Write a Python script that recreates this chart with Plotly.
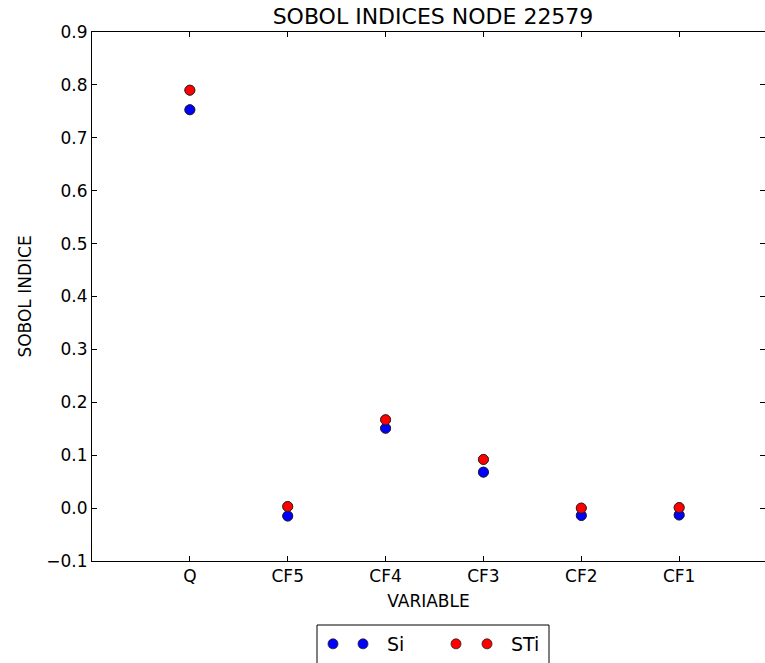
import plotly.graph_objects as go

# First-order (Si) and total (STi) Sobol indices per input variable
variables = ["Q", "CF5", "CF4", "CF3", "CF2", "CF1"]
si_values = [0.753, -0.015, 0.151, 0.068, -0.014, -0.013]
sti_values = [0.790, 0.003, 0.167, 0.092, 0.000, 0.001]

y_ticks = [-0.1, 0.0, 0.1, 0.2, 0.3, 0.4, 0.5, 0.6, 0.7, 0.8, 0.9]

W, H = 765, 663
ML, MR, MT, MB = 92, 0, 32, 102
PW = W - ML - MR
PH = H - MT - MB
UNIT = 97.86  # pixels per category step
FONT = "DejaVu Sans"


def px_x(p):
    return (p - ML) / PW


def cy(p):
    return 1 - p / H


fig = go.Figure()

marker_line = dict(color="#222222", width=0.8)

# Extra legend-only entries give each series the two-symbol legend sample
fig.add_trace(go.Scatter(
    x=variables, y=si_values, mode="markers", name="",
    marker=dict(color="#0000ff", size=10, line=marker_line),
    legend="legend2", legendwidth=70, hoverinfo="skip",
))
fig.add_trace(go.Scatter(
    x=variables, y=si_values, mode="markers", name="Si",
    marker=dict(color="#0000ff", size=10, line=marker_line),
    legend="legend", legendwidth=71,
))
fig.add_trace(go.Scatter(
    x=variables, y=sti_values, mode="markers", name="",
    marker=dict(color="#ff0000", size=10, line=marker_line),
    legend="legend2", legendwidth=10, hoverinfo="skip",
))
fig.add_trace(go.Scatter(
    x=variables, y=sti_values, mode="markers", name="STi",
    marker=dict(color="#ff0000", size=10, line=marker_line),
    legend="legend", legendwidth=40,
))

axis_common = dict(
    showline=True, linecolor="black", linewidth=1, mirror="ticks",
    ticks="inside", ticklen=5, tickwidth=1, tickcolor="black",
    showgrid=False, zeroline=False,
    tickfont=dict(family=FONT, size=17, color="black"),
)

fig.update_layout(
    width=W, height=H,
    margin=dict(l=ML, r=MR, t=MT, b=MB, pad=0),
    paper_bgcolor="white", plot_bgcolor="white",
    font=dict(family=FONT, color="black"),
    title=dict(
        text="SOBOL INDICES NODE 22579",
        font=dict(family=FONT, size=22, color="black"),
        x=px_x(433), xref="paper", xanchor="center",
        y=cy(16.5), yref="container", yanchor="middle",
    ),
    xaxis=dict(
        axis_common,
        type="category", categoryorder="array", categoryarray=variables,
        range=[-1, -1 + PW / UNIT],
        title=dict(text="VARIABLE", font=dict(family=FONT, size=17), standoff=9),
    ),
    yaxis=dict(
        axis_common,
        range=[-0.1, 0.9], tickvals=y_ticks, tickformat=".1f",
        title=dict(text="SOBOL INDICE", font=dict(family=FONT, size=17), standoff=10),
    ),
    showlegend=True,
    legend=dict(
        orientation="h", x=px_x(339), xref="paper", xanchor="left",
        y=cy(625), yref="container", yanchor="top",
        bgcolor="rgba(0,0,0,0)", borderwidth=0, itemwidth=38,
        font=dict(family=FONT, size=19, color="black"),
    ),
    legend2=dict(
        orientation="h", x=px_x(309), xref="paper", xanchor="left",
        y=cy(625), yref="container", yanchor="top",
        bgcolor="rgba(0,0,0,0)", borderwidth=0, itemwidth=38,
        font=dict(family=FONT, size=19, color="black"),
    ),
    shapes=[dict(
        type="rect", xref="paper", yref="paper",
        x0=px_x(317), x1=px_x(549),
        y0=(MT + PH - 690) / PH, y1=(MT + PH - 625) / PH,
        line=dict(color="black", width=1), fillcolor="rgba(0,0,0,0)",
    )],
)

fig.write_html("out.html")
